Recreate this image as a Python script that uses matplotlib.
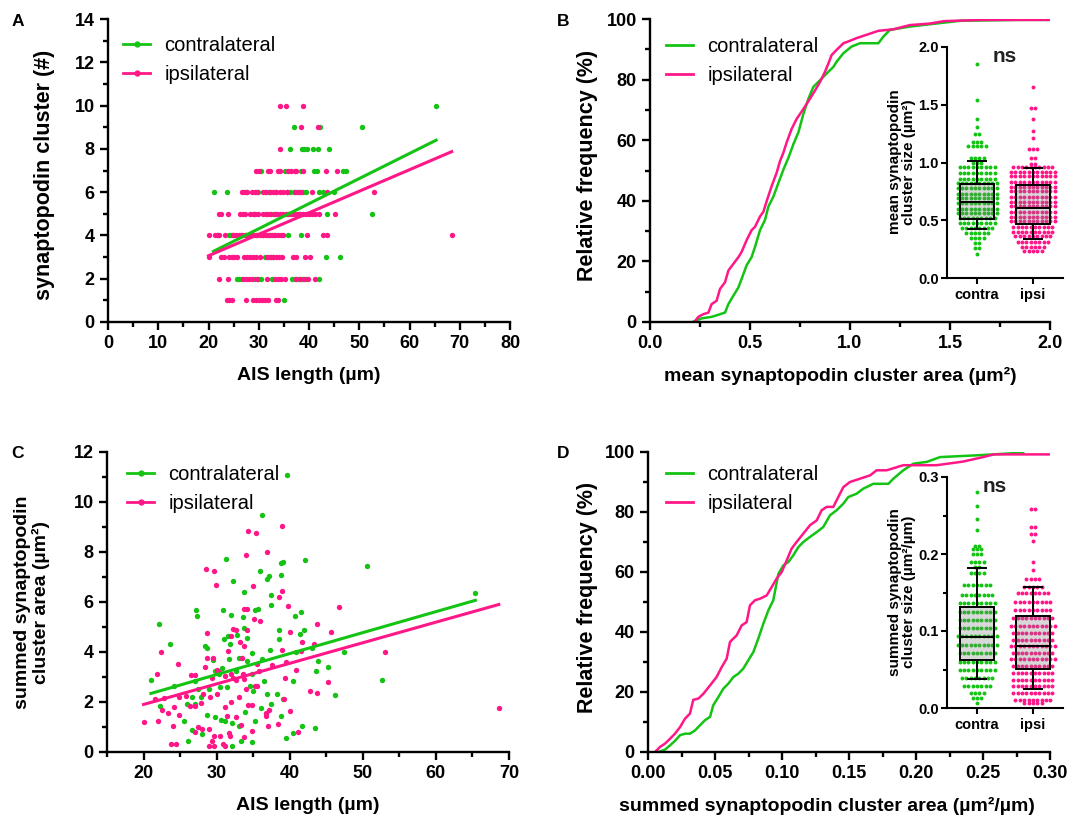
import matplotlib
matplotlib.use('Agg')
import matplotlib.pyplot as plt
import numpy as np
from matplotlib.lines import Line2D
from matplotlib.patches import Rectangle
from matplotlib.ticker import MultipleLocator, FormatStrFormatter

plt.rcParams['font.family'] = ['Liberation Sans', 'DejaVu Sans']
plt.rcParams['font.weight'] = 'bold'

GREEN = '#14C314'
PINK = '#FF1788'

# ---------------- DATA ----------------
# Panel A: synaptopodin cluster count vs AIS length (rows by cluster number)
A_contra_rows = {
    10: [65.3],
    9: [37.1, 42.1, 50.6],
    8: [36.2, 38.7, 39.1, 39.7, 40.7, 41.7, 43.9],
    7: [30.4, 35.3, 38.4, 40.9, 41.5, 46.8, 47.4],
    6: [21.0, 23.6, 27.4, 29.9, 31.2, 32.0, 33.5, 35.6, 36.3, 37.0, 37.6, 38.2, 38.9, 39.5, 41.9, 42.8, 45.0],
    5: [29.0, 31.4, 32.5, 33.3, 35.8, 36.6, 37.3, 38.0, 43.6, 52.5],
    4: [21.8, 24.1, 24.5, 24.9, 26.5, 27.5, 28.5, 29.5, 30.9, 31.6, 32.3, 33.1, 35.9, 38.4],
    3: [31.2, 31.9, 32.5, 32.9, 43.3, 46.2],
    2: [25.6, 26.1, 26.6, 29.2, 29.8, 30.4, 32.6, 36.7, 37.3, 38.0, 38.6, 39.5, 41.9],
    1: [35.0],
}
A_ipsi_rows = {
    10: [34.2, 35.4, 38.9],
    9: [38.5, 41.7],
    8: [34.2],
    7: [29.4, 30.0, 31.9, 32.2, 33.8, 34.2, 35.8, 36.5, 37.2, 37.5, 38.9, 43.3, 45.5],
    6: [26.6, 27.1, 27.6, 28.6, 29.2, 29.6, 30.9, 31.5, 32.2, 32.9, 33.5, 34.2, 34.9, 35.6, 37.2, 37.8, 38.5, 40.5, 43.5, 52.9],
    5: [22.0, 22.5, 23.9, 26.3, 26.8, 27.3, 28.3, 28.8, 29.3, 29.9, 30.9, 31.6, 32.3, 33.0, 33.6, 34.2, 34.8, 35.4,
        36.0, 36.6, 37.2, 37.8, 38.2, 38.8, 39.4, 40.0, 40.6, 41.2, 41.9, 45.2],
    4: [20.0, 21.2, 21.7, 22.1, 23.3, 24.9, 25.5, 26.1, 26.7, 27.3, 27.9, 28.5, 29.0, 29.6, 30.3, 30.9, 31.5, 32.1,
        32.7, 33.3, 33.9, 34.5, 34.9, 39.7, 42.7, 43.6, 68.4],
    3: [20.0, 22.4, 23.1, 24.1, 24.6, 25.1, 25.7, 27.1, 27.7, 28.3, 28.9, 29.5, 30.2, 31.6, 32.2, 32.8, 33.4, 34.0,
        34.6, 36.9, 37.5, 39.2, 40.2],
    2: [22.0, 23.9, 26.9, 27.5, 28.1, 28.7, 29.6, 31.6, 33.2, 33.9, 34.5, 35.2, 37.5, 38.2, 39.0, 39.8, 41.2],
    1: [23.6, 24.1, 24.6, 27.5, 28.9, 29.5, 30.0, 30.6, 31.2, 31.9, 33.4, 33.9],
}
# linear fits (slope, intercept, x range)
A_fit_contra = (0.1159, 0.833, 21.0, 65.3)
A_fit_ipsi = (0.0994, 1.072, 20.0, 68.4)
C_fit_contra = (0.0839, 0.58, 21.0, 65.4)
C_fit_ipsi = (0.0823, 0.255, 20.0, 68.6)

# Panel C: summed cluster area vs AIS length
C_contra_x = [39.6, 36.2, 31.3, 42.1, 50.6, 38.8, 39.1, 36.0, 37.2, 36.9, 32.3, 38.8, 33.8, 37.5, 37.4, 65.4,
              27.2, 27.3, 30.9, 31.9, 33.6, 35.3, 35.7, 40.7, 41.6, 22.1, 23.6, 28.4, 28.7, 31.0, 31.6, 31.8,
              32.8, 33.7, 34.1, 38.5, 38.5, 41.4, 41.9, 43.0, 37.3, 34.9, 47.4, 40.9, 43.9, 45.2, 43.6, 52.6,
              46.2, 21.0, 24.2, 22.3, 25.9, 26.6, 27.1, 27.9, 29.5, 29.8, 30.3, 30.5, 30.8, 31.4, 31.7, 32.6,
              33.0, 34.2, 34.9, 35.0, 36.2, 36.5, 36.9, 37.5, 38.3, 39.1, 40.4, 26.6, 26.1, 28.0, 28.7, 29.8,
              30.6, 31.2, 32.1, 32.1, 33.0, 33.9, 33.4, 34.9, 36.1, 38.8, 39.5, 40.5, 41.7, 43.4, 25.6, 35.3,
              36.7, 27.1, 34.6, 29.0, 27.5]
C_contra_y = [11.07, 9.48, 7.72, 7.69, 7.44, 7.56, 7.60, 7.25, 7.06, 6.92, 6.84, 7.07, 6.39, 6.30, 5.90, 6.37,
              5.69, 5.44, 5.68, 5.50, 5.40, 5.68, 5.74, 5.46, 5.60, 5.11, 4.31, 4.24, 4.18, 4.51, 4.64, 4.34,
              4.67, 4.97, 4.58, 4.88, 4.54, 4.71, 4.89, 4.15, 4.07, 3.97, 4.02, 4.02, 3.65, 3.42, 3.25, 2.88,
              2.28, 2.88, 2.64, 1.86, 1.92, 2.19, 2.85, 2.21, 3.69, 3.25, 3.12, 2.59, 3.38, 2.59, 3.71, 3.25,
              3.78, 3.65, 3.12, 2.45, 3.71, 2.85, 2.32, 1.92, 2.32, 2.12, 2.85, 0.89, 0.46, 0.73, 1.50, 1.42,
              1.29, 1.23, 0.23, 1.15, 1.06, 1.59, 0.46, 0.42, 1.75, 1.43, 0.57, 0.76, 1.03, 0.97, 1.26, 1.26,
              1.53, 1.92, 2.65, 2.52, 2.52]
C_ipsi_x = [38.9, 34.3, 35.4, 34.0, 36.9, 28.6, 29.7, 29.9, 35.0, 38.9, 38.6, 46.8, 39.8, 33.8, 34.2, 35.1,
            36.0, 43.7, 28.7, 32.3, 32.6, 31.9, 34.2, 40.0, 45.6, 41.7, 22.4, 31.6, 33.2, 33.8, 38.9, 41.6,
            43.3, 53.0, 24.7, 21.8, 26.5, 27.1, 28.4, 28.7, 29.5, 30.1, 30.3, 29.4, 31.2, 31.9, 32.3, 32.6,
            33.5, 33.6, 33.8, 35.5, 35.8, 37.6, 39.5, 40.8, 39.3, 35.2, 35.5, 34.0, 45.3, 42.8, 43.7, 21.5,
            22.8, 24.2, 24.9, 25.8, 26.3, 27.1, 27.8, 28.1, 29.1, 30.1, 31.2, 32.0, 33.0, 34.3, 34.8, 37.2,
            22.5, 23.3, 24.8, 22.0, 20.0, 24.0, 27.5, 27.0, 28.0, 28.9, 29.4, 30.5, 29.6, 28.9, 29.7, 30.9,
            31.1, 31.7, 31.8, 31.4, 32.7, 33.3, 33.7, 34.9, 36.7, 36.7, 37.0, 38.4, 41.1, 23.7, 24.4, 68.6,
            39.2, 40.1]
C_ipsi_y = [9.05, 8.85, 8.77, 7.89, 8.01, 7.33, 7.25, 6.68, 6.63, 6.43, 6.22, 5.80, 5.86, 5.73, 5.74, 5.33,
            5.24, 5.13, 4.75, 4.91, 4.89, 4.64, 4.88, 4.80, 4.80, 4.42, 4.02, 4.05, 4.42, 4.26, 4.10, 4.05,
            4.31, 4.02, 3.51, 3.12, 3.08, 3.08, 3.41, 3.78, 3.78, 3.28, 3.22, 2.98, 3.05, 3.12, 2.96, 2.88,
            3.78, 3.12, 2.92, 3.54, 3.25, 3.49, 3.62, 3.28, 2.98, 2.63, 2.63, 2.52, 2.80, 2.43, 2.36, 2.12,
            2.16, 1.82, 2.19, 2.25, 1.86, 1.83, 1.95, 2.32, 2.19, 2.32, 1.82, 1.99, 2.21, 1.88, 1.88, 1.68,
            1.68, 1.55, 1.50, 1.26, 1.19, 1.03, 1.02, 0.82, 0.93, 0.93, 0.44, 0.65, 0.66, 0.23, 0.25, 0.33,
            0.25, 0.78, 0.66, 1.46, 1.39, 1.10, 0.60, 0.84, 1.55, 1.46, 1.06, 1.13, 0.80, 0.33, 0.33, 1.75,
            2.12, 1.63]

# Panel B: cumulative distributions of mean cluster area
B_contra_x = [0.217, 0.258, 0.308, 0.333, 0.375, 0.392, 0.417, 0.442, 0.458, 0.483, 0.508, 0.525, 0.55, 0.575,
              0.592, 0.617, 0.642, 0.667, 0.692, 0.717, 0.742, 0.767, 0.792, 0.817, 0.85, 0.883, 0.917, 0.933,
              0.967, 1.008, 1.05, 1.142, 1.167, 1.2, 1.3, 1.39, 1.55, 1.85, 2.0]
B_contra_y = [0.1, 1.2, 1.7, 2.2, 3.1, 5.9, 8.7, 11.4, 14.2, 18.7, 21.4, 24.8, 30.3, 33.7, 38.1, 41.4, 45.9,
              50.3, 54.2, 58.7, 62.6, 68.7, 73.7, 77.6, 79.8, 82.0, 84.2, 85.9, 88.7, 90.9, 92.0, 92.0, 94.2,
              96.4, 97.5, 98.2, 99.4, 99.7, 99.7]
B_ipsi_x = [0.225, 0.242, 0.267, 0.292, 0.308, 0.333, 0.35, 0.375, 0.392, 0.417, 0.442, 0.458, 0.483, 0.508,
            0.525, 0.55, 0.567, 0.583, 0.608, 0.633, 0.65, 0.667, 0.683, 0.708, 0.733, 0.767, 0.8, 0.825, 0.85,
            0.875, 0.892, 0.908, 0.933, 0.967, 0.992, 1.033, 1.083, 1.142, 1.217, 1.30, 1.40, 1.47, 1.66, 2.0]
B_ipsi_y = [0.3, 1.7, 2.6, 3.1, 5.9, 7.0, 10.9, 13.1, 17.0, 19.2, 21.4, 23.1, 27.0, 30.3, 31.4, 34.8, 36.4,
            39.8, 44.8, 49.2, 53.1, 55.9, 59.2, 63.7, 67.0, 70.3, 73.7, 76.4, 79.2, 82.6, 85.3, 88.1, 89.8,
            92.0, 92.6, 93.7, 94.8, 96.1, 96.6, 98.0, 98.5, 99.3, 99.7, 99.7]

# Panel D: cumulative distributions of summed cluster area
D_contra_x = [0.0077, 0.0127, 0.0164, 0.0201, 0.0239, 0.0276, 0.0313, 0.0351, 0.0388, 0.0425, 0.0463, 0.0487,
              0.0525, 0.0562, 0.0600, 0.0637, 0.0674, 0.0711, 0.0749, 0.0786, 0.0823, 0.0861, 0.0898, 0.0935,
              0.0973, 0.1010, 0.1047, 0.1085, 0.1122, 0.1159, 0.1209, 0.1259, 0.1308, 0.1358, 0.1408, 0.1458,
              0.1495, 0.1557, 0.1607, 0.1682, 0.1794, 0.1831, 0.1905, 0.1980, 0.2080, 0.2179, 0.25, 0.28]
D_contra_y = [0.0, 0.8, 2.2, 3.7, 5.6, 6.1, 6.1, 7.2, 8.9, 10.6, 11.7, 15.6, 18.3, 21.1, 22.8, 25.0, 26.1, 27.8,
              30.6, 33.3, 37.8, 42.8, 47.2, 50.6, 59.4, 62.2, 63.3, 65.6, 68.3, 70.0, 71.7, 73.3, 75.0, 78.9,
              80.6, 82.8, 85.0, 86.1, 87.8, 89.4, 89.4, 91.1, 93.9, 96.1, 96.7, 98.3, 99.0, 99.8]
D_ipsi_x = [0.0052, 0.0090, 0.0127, 0.0164, 0.0201, 0.0239, 0.0276, 0.0313, 0.0338, 0.0376, 0.0413, 0.0463,
            0.0512, 0.0550, 0.0587, 0.0612, 0.0662, 0.0699, 0.0736, 0.0761, 0.0799, 0.0836, 0.0886, 0.0923,
            0.0960, 0.0998, 0.1035, 0.1072, 0.1109, 0.1159, 0.1209, 0.1259, 0.1296, 0.1333, 0.1383, 0.1420,
            0.1458, 0.1507, 0.1582, 0.1657, 0.1706, 0.1781, 0.1905, 0.2154, 0.235, 0.25, 0.258, 0.30]
D_ipsi_y = [0.0, 1.7, 2.8, 4.4, 6.1, 8.3, 11.1, 12.8, 17.4, 17.8, 19.4, 22.2, 25.0, 28.3, 31.1, 36.7, 38.9, 42.2,
            43.3, 48.9, 50.6, 51.1, 52.2, 55.0, 57.8, 60.0, 63.9, 67.8, 70.0, 72.8, 75.6, 77.2, 80.6, 81.7,
            81.7, 85.0, 88.3, 90.0, 91.1, 92.2, 93.9, 93.9, 95.6, 95.6, 96.8, 98.3, 99.2, 99.2]

# Inset B: mean cluster size, swarm rows (value level, number of points)
IB_contra_lv = [1.85, 1.545, 1.38, 1.31, 1.25, 1.18, 1.14, 1.04, 1.0, 0.96, 0.91, 0.86, 0.82, 0.78, 0.73, 0.69,
                0.65, 0.60, 0.56, 0.52, 0.475, 0.43, 0.39, 0.345, 0.30, 0.26, 0.21]
IB_contra_n = [1, 1, 1, 1, 2, 3, 5, 4, 3, 9, 9, 9, 10, 10, 10, 10, 10, 10, 10, 9, 9, 8, 6, 4, 2, 2, 1]
IB_ipsi_lv = [1.655, 1.47, 1.38, 1.27, 1.21, 1.12, 1.035, 0.99, 0.965, 0.92, 0.88, 0.83, 0.79, 0.75, 0.705,
              0.66, 0.62, 0.575, 0.53, 0.49, 0.445, 0.40, 0.36, 0.315, 0.27, 0.23]
IB_ipsi_n = [1, 2, 1, 1, 1, 3, 2, 2, 10, 11, 11, 11, 11, 11, 11, 11, 11, 11, 11, 11, 10, 10, 9, 8, 6, 5]
IB_contra_box = [0.425, 0.512, 0.662, 0.81, 1.015]   # whisker low, Q1, median, Q3, whisker high
IB_ipsi_box = [0.337, 0.466, 0.61, 0.805, 0.955]

# Inset D: summed cluster size
ID_contra_lv = [0.28, 0.262, 0.246, 0.231, 0.211, 0.207, 0.20, 0.19, 0.183, 0.175, 0.16, 0.147, 0.136, 0.125,
                0.114, 0.104, 0.093, 0.082, 0.071, 0.06, 0.05, 0.039, 0.028, 0.019, 0.013, 0.006]
ID_contra_n = [1, 1, 1, 1, 2, 3, 3, 4, 2, 4, 7, 8, 9, 9, 9, 9, 10, 10, 9, 9, 9, 8, 7, 4, 3, 1]
ID_ipsi_lv = [0.258, 0.235, 0.226, 0.217, 0.19, 0.179, 0.168, 0.157, 0.149, 0.138, 0.127, 0.117, 0.106, 0.097,
              0.088, 0.08, 0.071, 0.063, 0.054, 0.045, 0.037, 0.028, 0.019, 0.011, 0.007]
ID_ipsi_n = [2, 2, 2, 1, 1, 1, 4, 5, 8, 9, 9, 10, 11, 10, 10, 11, 10, 11, 10, 10, 10, 10, 10, 9, 5]
ID_contra_box = [0.038, 0.0617, 0.0928, 0.131, 0.182]
ID_ipsi_box = [0.025, 0.0505, 0.0807, 0.12, 0.157]

groups = ['contralateral', 'ipsilateral']
inset_cats = ['contra', 'ipsi']

# ---------------- FIGURE ----------------
W, H = 1075, 827
fig = plt.figure(figsize=(W / 100, H / 100), dpi=100)


def ax_at(l, t, r, b):
    return fig.add_axes([l / W, 1 - b / H, (r - l) / W, (b - t) / H])


def style(ax, lw=1.7, fs=13, major=6, minor=3.5, pad=3.5):
    for s in ['top', 'right']:
        ax.spines[s].set_visible(False)
    for s in ['left', 'bottom']:
        ax.spines[s].set_linewidth(lw)
    ax.tick_params(which='major', direction='out', length=major, width=lw, labelsize=fs, pad=pad)
    ax.tick_params(which='minor', direction='out', length=minor, width=lw)
    ax.patch.set_alpha(0)


def ftext(x, y, s, **kw):
    fig.text(x / W, 1 - y / H, s, **kw)


XLABFS = 14
YLABFS = 15.5


def legend(ax, x, ytop, markers):
    mk = 'o' if markers else None
    handles = [Line2D([], [], color=GREEN, lw=2, marker=mk, ms=3.5),
               Line2D([], [], color=PINK, lw=2, marker=mk, ms=3.5)]
    ax.legend(handles, groups, loc='upper left', bbox_to_anchor=(x / W, 1 - ytop / H),
              bbox_transform=fig.transFigure, frameon=False,
              prop={'size': 14.5, 'weight': 'normal'}, handlelength=1.35, handletextpad=0.7,
              labelspacing=0.52, borderpad=0, borderaxespad=0, numpoints=1)


def rows_to_xy(rows):
    xs, ys = [], []
    for n, vals in rows.items():
        xs += vals
        ys += [n] * len(vals)
    return xs, ys


def fit_line(ax, fit, color):
    m, b, x0, x1 = fit
    xx = np.array([x0, x1])
    ax.plot(xx, m * xx + b, color=color, lw=2.2, zorder=5)


# ---- Panel A ----
axA = ax_at(108, 19, 510, 322)
style(axA)
for rows, col in [(A_contra_rows, GREEN), (A_ipsi_rows, PINK)]:
    x, y = rows_to_xy(rows)
    axA.scatter(x, y, s=15, color=col, lw=0, zorder=3)
fit_line(axA, A_fit_contra, GREEN)
fit_line(axA, A_fit_ipsi, PINK)
axA.set_xlim(0, 80)
axA.set_ylim(0, 14)
axA.xaxis.set_major_locator(MultipleLocator(10))
axA.xaxis.set_minor_locator(MultipleLocator(5))
axA.yaxis.set_major_locator(MultipleLocator(2))
axA.yaxis.set_minor_locator(MultipleLocator(1))
legend(axA, 123, 36, True)
ftext(45, 175, 'synaptopodin cluster (#)', rotation=90, ha='center', va='center', fontsize=YLABFS)
ftext(309, 376, 'AIS length (µm)', ha='center', va='center', fontsize=XLABFS)

# ---- Panel B ----
axB = ax_at(650, 19, 1050, 322)
style(axB)
axB.plot(B_contra_x, B_contra_y, color=GREEN, lw=1.8)
axB.plot(B_ipsi_x, B_ipsi_y, color=PINK, lw=1.8)
axB.set_xlim(0, 2.0)
axB.set_ylim(0, 100)
axB.xaxis.set_major_locator(MultipleLocator(0.5))
axB.xaxis.set_minor_locator(MultipleLocator(0.25))
axB.xaxis.set_major_formatter(FormatStrFormatter('%.1f'))
axB.yaxis.set_major_locator(MultipleLocator(20))
axB.yaxis.set_minor_locator(MultipleLocator(10))
legend(axB, 666, 37, False)
ftext(588, 165, 'Relative frequency (%)', rotation=90, ha='center', va='center', fontsize=YLABFS)
ftext(840, 376, 'mean synaptopodin cluster area (µm²)', ha='center', va='center', fontsize=XLABFS)

# ---- Panel C ----
axC = ax_at(107, 452, 509, 752)
style(axC)
axC.scatter(C_contra_x, C_contra_y, s=15, color=GREEN, lw=0, zorder=3)
axC.scatter(C_ipsi_x, C_ipsi_y, s=15, color=PINK, lw=0, zorder=3)
fit_line(axC, C_fit_contra, GREEN)
fit_line(axC, C_fit_ipsi, PINK)
axC.set_xlim(15, 70)
axC.set_ylim(0, 12)
axC.xaxis.set_major_locator(MultipleLocator(10))
axC.xaxis.set_minor_locator(MultipleLocator(5))
axC.yaxis.set_major_locator(MultipleLocator(2))
axC.yaxis.set_minor_locator(MultipleLocator(1))
legend(axC, 127, 465, True)
ftext(32, 602, 'summed synaptopodin\ncluster area (µm²)', rotation=90, ha='center', va='center',
      fontsize=14, linespacing=1.0)
ftext(308, 806, 'AIS length (µm)', ha='center', va='center', fontsize=XLABFS)

# ---- Panel D ----
axD = ax_at(648, 452, 1050, 752)
style(axD)
axD.plot(D_contra_x, D_contra_y, color=GREEN, lw=1.8)
axD.plot(D_ipsi_x, D_ipsi_y, color=PINK, lw=1.8)
axD.set_xlim(0, 0.30)
axD.set_ylim(0, 100)
axD.xaxis.set_major_locator(MultipleLocator(0.05))
axD.xaxis.set_minor_locator(MultipleLocator(0.025))
axD.xaxis.set_major_formatter(FormatStrFormatter('%.2f'))
axD.yaxis.set_major_locator(MultipleLocator(20))
axD.yaxis.set_minor_locator(MultipleLocator(10))
legend(axD, 666, 465, False)
ftext(588, 597, 'Relative frequency (%)', rotation=90, ha='center', va='center', fontsize=YLABFS)
ftext(827, 806, 'summed synaptopodin cluster area (µm²/µm)', ha='center', va='center', fontsize=XLABFS)


# ---- Insets ----
def swarm(ax, pos, levels, counts, color, dx=0.078):
    xs, ys = [], []
    for lv, n in zip(levels, counts):
        for i in range(n):
            xs.append(pos + (i - (n - 1) / 2) * dx)
            ys.append(lv)
    ax.scatter(xs, ys, s=8, color=color, lw=0, zorder=2)


def box(ax, pos, st):
    wlo, q1, med, q3, whi = st
    bw, cw = 0.62, 0.36
    ax.add_patch(Rectangle((pos - bw / 2, q1), bw, q3 - q1, facecolor='#808080', alpha=0.3,
                           edgecolor='none', zorder=3))
    ax.add_patch(Rectangle((pos - bw / 2, q1), bw, q3 - q1, facecolor='none', edgecolor='black',
                           lw=1.4, zorder=4))
    kw = dict(color='black', lw=1.4, zorder=4, solid_capstyle='butt')
    ax.plot([pos - bw / 2, pos + bw / 2], [med, med], **kw)
    ax.plot([pos, pos], [q3, whi], **kw)
    ax.plot([pos, pos], [wlo, q1], **kw)
    ax.plot([pos - cw / 2, pos + cw / 2], [whi, whi], **kw)
    ax.plot([pos - cw / 2, pos + cw / 2], [wlo, wlo], **kw)


def inset(top, bottom, data, ymax, major, minor):
    ax = ax_at(947, top, 1063, bottom)
    style(ax, lw=1.5, fs=10.5, major=4.5, minor=3, pad=1.5)
    (clv, cn, cbox), (ilv, inn, ibox) = data
    swarm(ax, 0, clv, cn, GREEN)
    swarm(ax, 1, ilv, inn, PINK)
    box(ax, 0, cbox)
    box(ax, 1, ibox)
    ax.set_xlim(-0.54, 1.54)
    ax.set_ylim(0, ymax)
    ax.set_xticks([0, 1])
    ax.set_xticklabels(inset_cats, fontsize=10.5)
    ax.yaxis.set_major_locator(MultipleLocator(major))
    if minor:
        ax.yaxis.set_minor_locator(MultipleLocator(minor))
    ax.yaxis.set_major_formatter(FormatStrFormatter('%.1f'))
    ax.tick_params(axis='x', pad=3)
    return ax


axIB = inset(47, 278, [(IB_contra_lv, IB_contra_n, IB_contra_box), (IB_ipsi_lv, IB_ipsi_n, IB_ipsi_box)],
             2.0, 0.5, None)
ftext(902, 162, 'mean synaptopodin\ncluster size (µm²)', rotation=90, ha='center', va='center',
      fontsize=11, linespacing=0.92)
ftext(1005, 57, 'ns', ha='center', va='center', fontsize=15, color='#222222')

axID = inset(477, 708, [(ID_contra_lv, ID_contra_n, ID_contra_box), (ID_ipsi_lv, ID_ipsi_n, ID_ipsi_box)],
             0.3, 0.1, 0.05)
ftext(902, 592, 'summed synaptopodin\ncluster size (µm²/µm)', rotation=90, ha='center', va='center',
      fontsize=11, linespacing=0.92)
ftext(995, 487, 'ns', ha='center', va='center', fontsize=15, color='#222222')

# panel letters
for s, x, y in [('A', 18, 21), ('B', 563, 21), ('C', 18, 453), ('D', 563, 453)]:
    ftext(x, y, s, ha='center', va='center', fontsize=12.5)

fig.savefig('out.png', dpi=100)
